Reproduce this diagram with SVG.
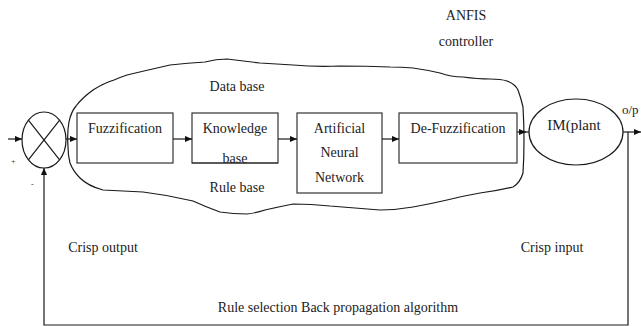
<svg xmlns="http://www.w3.org/2000/svg" width="641" height="326" viewBox="0 0 641 326">
<style>
  .ln{fill:none;stroke:#1a1a1a;stroke-width:1.2}
  .box{fill:#fff;stroke:#333;stroke-width:1.2}
  .t{font-family:"Liberation Serif","Times New Roman",serif;font-size:14px;fill:#222;text-anchor:middle}
  .s{font-family:"Liberation Serif",serif;font-size:8px;fill:#333}
</style>
<defs>
  <marker id="ah" viewBox="0 0 8 8" refX="8" refY="4" markerWidth="7" markerHeight="7" markerUnits="userSpaceOnUse" orient="auto">
    <path d="M0,0.5 L8,4 L0,7.5 Z" fill="#111"/>
  </marker>
</defs>

<g id="anfis-label">
  <text class="t" x="466" y="20">ANFIS</text>
  <text class="t" x="466" y="46">controller</text>
</g>

<g id="cloud">
  <path class="ln" stroke-width="1.1" d="M68,147 Q67,132 69,122 Q71,112 76,106 Q82,98 93,90 Q104,83 114,80 Q121,77 127,75 Q148,70 170,65 Q188,63 205,62 Q216,59 227,59 Q244,61 260,63 Q276,64 293,65 Q316,67 340,66 Q366,66 390,67 Q402,67 413,68 Q427,70 440,73 Q451,77 463,77 Q478,79 490,79 Q501,79 507,81 Q515,84 518,90 Q521,98 523,107 Q524,124 524,140 Q524,157 523,173 Q520,183 513,187 Q497,191 480,193 Q463,196 447,200 Q430,204 413,207 Q396,210 380,210 Q355,208 330,206 Q311,204 293,204 Q278,207 265,210 Q256,213 247,214 Q233,214 220,212 Q206,207 193,201 Q168,195 143,192 Q122,191 103,190 Q88,186 80,178 Q73,171 70,163 Q68,155 68,147 Z"/>
  <text class="t" x="237" y="91">Data base</text>
  <text class="t" x="237" y="192">Rule base</text>
</g>

<g id="sum">
  <ellipse class="ln" cx="44" cy="140" rx="22" ry="28"/>
  <line class="ln" x1="28.4" y1="120.2" x2="59.6" y2="159.8"/>
  <line class="ln" x1="59.6" y1="120.2" x2="28.4" y2="159.8"/>
  <text class="s" x="11" y="164">+</text>
  <text class="s" x="31" y="187">-</text>
</g>

<g id="fuzzification">
  <rect class="box" x="77" y="113" width="96" height="50"/>
  <text class="t" x="125" y="133">Fuzzification</text>
</g>

<g id="knowledge">
  <rect class="box" x="192" y="113" width="86" height="50"/>
  <text class="t" x="235" y="133">Knowledge</text>
  <text class="t" x="235" y="163">base</text>
  <line x1="192" y1="163" x2="278" y2="163" stroke="#333" stroke-width="1.2"/>
</g>

<g id="ann">
  <rect class="box" x="297" y="113" width="85" height="80"/>
  <text class="t" x="339.5" y="133">Artificial</text>
  <text class="t" x="339.5" y="157">Neural</text>
  <text class="t" x="339.5" y="182">Network</text>
</g>

<g id="defuzzification">
  <rect class="box" x="399" y="113" width="118" height="50"/>
  <text class="t" x="458" y="133">De-Fuzzification</text>
</g>

<g id="plant">
  <ellipse class="ln" cx="576" cy="132" rx="47" ry="33"/>
  <text class="t" x="574" y="130" style="font-size:15px">IM(plant</text>
</g>

<g id="labels">
  <text class="t" x="103" y="252">Crisp output</text>
  <text class="t" x="552" y="252">Crisp input</text>
  <text class="t" x="338" y="312">Rule selection Back propagation algorithm</text>
  <text class="t" x="622" y="114" style="text-anchor:start;font-size:13px">o/p</text>
</g>

<g id="connectors">
  <line class="ln" x1="8" y1="139" x2="22" y2="139" marker-end="url(#ah)"/>
  <line class="ln" x1="66" y1="139" x2="77" y2="139" marker-end="url(#ah)"/>
  <line class="ln" x1="173" y1="139" x2="192" y2="139" marker-end="url(#ah)"/>
  <line class="ln" x1="278" y1="139" x2="297" y2="139" marker-end="url(#ah)"/>
  <line class="ln" x1="382" y1="139" x2="399" y2="139" marker-end="url(#ah)"/>
  <line class="ln" x1="517" y1="132" x2="526" y2="132" marker-end="url(#ah)"/>
  <line class="ln" x1="524" y1="132" x2="529" y2="132"/>
  <line class="ln" x1="623" y1="132" x2="641" y2="132" marker-end="url(#ah)"/>
  <polyline class="ln" points="628,132 628,325 44,325 44,168" marker-end="url(#ah)"/>
</g>
</svg>
